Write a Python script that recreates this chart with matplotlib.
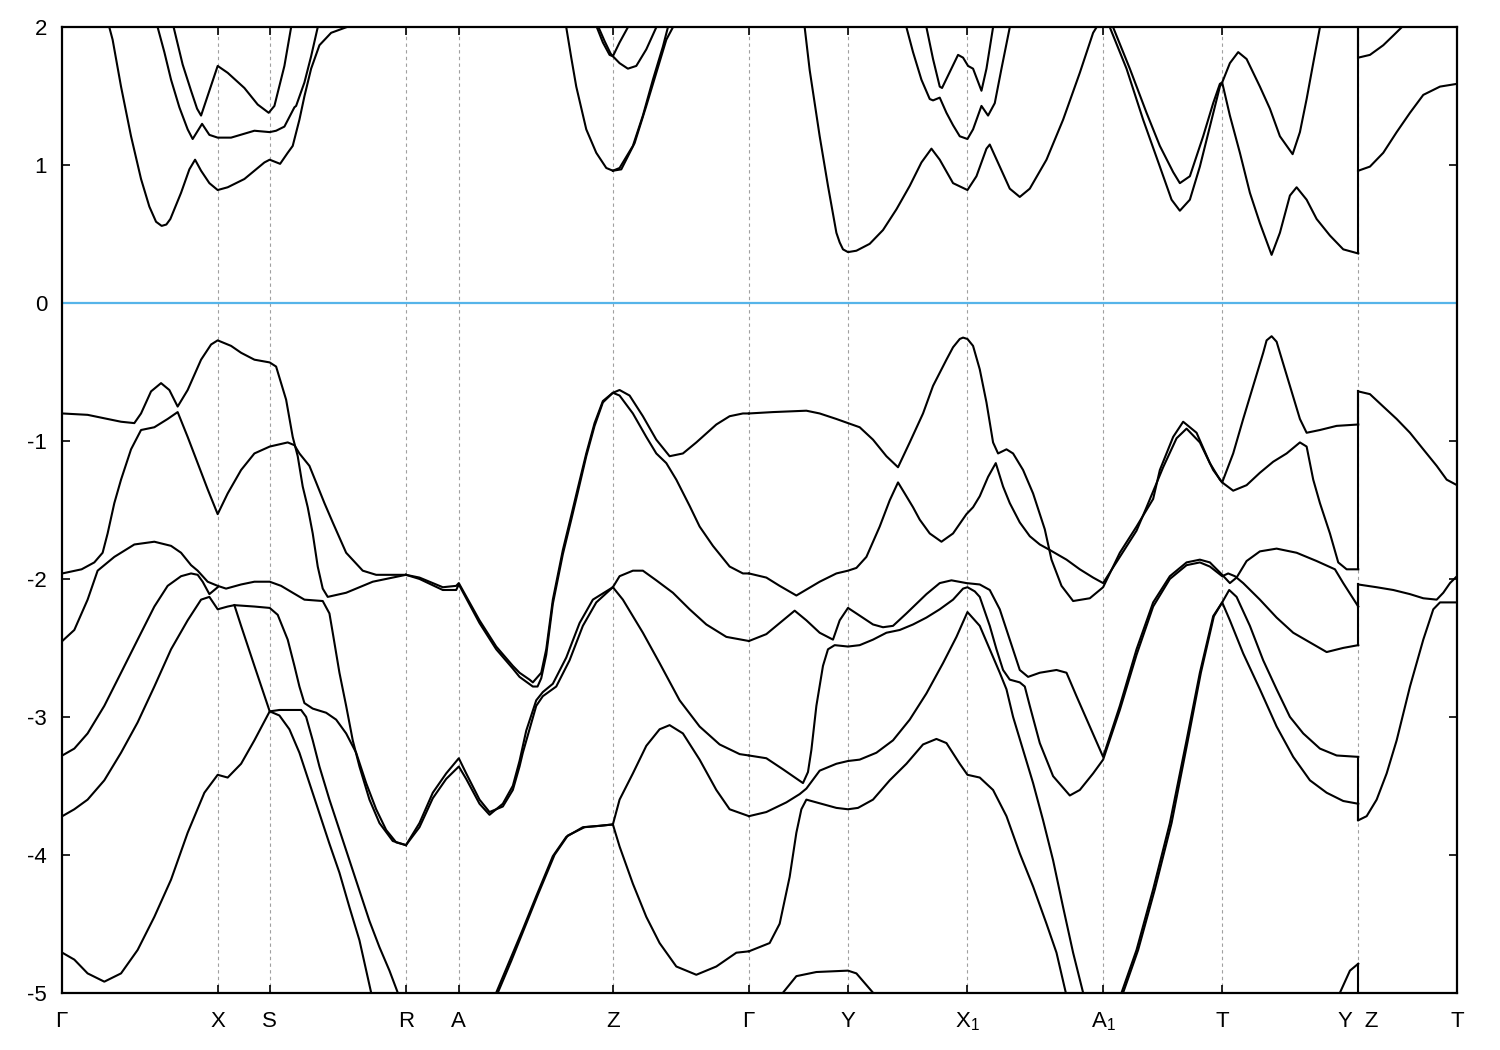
import matplotlib
matplotlib.use("Agg")
import matplotlib.pyplot as plt

plt.rcParams['font.family'] = ['Liberation Sans', 'DejaVu Sans']
plt.rcParams['mathtext.default'] = 'regular'
plt.rcParams['axes.unicode_minus'] = False

# high symmetry points along the path (path coordinate)
kpts = [0, 155.3, 207.3, 343.5, 396.3, 550.3, 686.3, 785.3, 904.7, 1040.3, 1159.3, 1295.3, 1394]
klabels = [r'$\Gamma$', 'X', 'S', 'R', 'A', 'Z', r'$\Gamma$', 'Y', 'X$_1$', 'A$_1$', 'T', 'Y  Z', 'T']
e_ticks = [-5, -4, -3, -2, -1, 0, 1, 2]

# ---- conduction bands ----
cb_gx_a_k = [47, 50.3, 58.7, 68.7, 78.7, 87, 93.7, 99.3, 104, 108, 118.7, 127, 132.7, 138.7, 147, 155.3, 165.3, 182,
             192, 202, 207.3, 217.7, 225.3, 230.3, 237, 242, 248.7, 257, 268.7, 283.7]
cb_gx_a_e = [2.0, 1.91, 1.57, 1.21, 0.90, 0.70, 0.59, 0.56, 0.57, 0.61, 0.80, 0.97, 1.04, 0.96, 0.87, 0.82, 0.84, 0.90,
             0.96, 1.02, 1.04, 1.01, 1.09, 1.14, 1.33, 1.50, 1.70, 1.87, 1.96, 2.0]
cb_gx_b_k = [95.3, 102, 108.7, 117, 125.3, 130.3, 139.7, 147, 155.3, 168.7, 192, 207.3, 213.7, 222, 232, 233.7, 242,
             248.7, 255.3]
cb_gx_b_e = [2.0, 1.82, 1.62, 1.42, 1.26, 1.19, 1.30, 1.22, 1.20, 1.20, 1.25, 1.24, 1.25, 1.28, 1.42, 1.43, 1.60, 1.79,
             2.0]
cb_gx_c_k = [111.3, 120.3, 128.7, 134.7, 138.7, 155.3, 165.3, 182, 195.3, 206.3, 212, 222, 228.7]
cb_gx_c_e = [2.0, 1.73, 1.54, 1.41, 1.36, 1.72, 1.67, 1.56, 1.44, 1.38, 1.43, 1.72, 2.0]

cb_z1_k = [503.7, 508.7, 513.7, 523.7, 533.7, 543.7, 550.3]
cb_z1_e = [2.0, 1.78, 1.57, 1.26, 1.09, 0.98, 0.96]
cb_z2_k = [550.3, 557, 570.3, 580.3, 590.3, 600.3, 605.3]
cb_z2_e = [0.96, 0.98, 1.14, 1.36, 1.62, 1.86, 2.0]
cb_z3_k = [550.3, 558.7, 572, 583.7, 593.7, 603.7, 610.3]
cb_z3_e = [0.96, 0.97, 1.16, 1.43, 1.67, 1.91, 2.0]
cb_z4_k = [534.3, 540.3, 547, 550.3, 557, 565.3, 573.7, 583.7, 593.7]
cb_z4_e = [2.0, 1.89, 1.80, 1.79, 1.74, 1.70, 1.72, 1.84, 2.0]
cb_z5_k = [536, 542, 548, 550.3, 557, 565.3]
cb_z5_e = [2.0, 1.90, 1.81, 1.79, 1.89, 2.0]

cb_y1_k = [742, 747, 757, 765.3, 773.7, 777, 780.3, 785.3, 793.7, 807, 820.3, 833.7, 847, 858.7, 868.7, 877, 890.3,
           904.7, 913.7, 923.7, 927, 937, 947, 957, 967, 983.7, 1000.3, 1017, 1030.3, 1033.7]
cb_y1_e = [2.0, 1.69, 1.21, 0.85, 0.51, 0.44, 0.39, 0.37, 0.38, 0.43, 0.53, 0.68, 0.85, 1.02, 1.12, 1.04, 0.87, 0.82,
           0.92, 1.12, 1.15, 0.99, 0.83, 0.77, 0.83, 1.04, 1.33, 1.67, 1.96, 2.0]
cb_x1a_k = [843.7, 850.3, 858.7, 867, 870.3, 877, 883.7, 890.3, 897, 904.7, 910.3, 918.7, 925.3, 932, 938.7, 947]
cb_x1a_e = [2.0, 1.82, 1.62, 1.48, 1.47, 1.49, 1.38, 1.29, 1.21, 1.19, 1.26, 1.43, 1.36, 1.45, 1.70, 2.0]
cb_x1b_k = [863.7, 870.3, 877, 879.3, 885.3, 895.3, 900.3, 905.3, 910.3, 918.7, 923.7, 930.3]
cb_x1b_e = [2.0, 1.77, 1.57, 1.56, 1.65, 1.80, 1.78, 1.72, 1.70, 1.54, 1.70, 2.0]

cb_t1_k = [1050.3, 1067, 1083.7, 1097, 1110.3, 1117, 1127, 1140.3, 1150.3, 1157, 1159.3, 1167, 1175.3, 1183.7, 1197,
           1207, 1217, 1229.7, 1237, 1243.7, 1250.3, 1257]
cb_t1_e = [2.0, 1.70, 1.38, 1.14, 0.95, 0.87, 0.92, 1.21, 1.45, 1.59, 1.60, 1.74, 1.82, 1.77, 1.57, 1.41, 1.21, 1.08,
           1.24, 1.48, 1.74, 2.0]
cb_t2_k = [1047, 1063.7, 1080.3, 1097, 1108.7, 1117, 1127, 1137, 1147, 1157, 1159.3, 1167, 1177, 1187, 1197, 1208.7,
           1217, 1227, 1233.7, 1243.7, 1253.7, 1267, 1280.3, 1295.3]
cb_t2_e = [2.0, 1.70, 1.33, 0.99, 0.75, 0.67, 0.75, 0.99, 1.28, 1.57, 1.60, 1.36, 1.09, 0.80, 0.58, 0.35, 0.51, 0.78,
           0.84, 0.75, 0.61, 0.49, 0.39, 0.36]
cb_zt1_k = [1295.3, 1307, 1320.3, 1333.7, 1347, 1360.3, 1377, 1394]
cb_zt1_e = [0.96, 0.99, 1.09, 1.24, 1.38, 1.51, 1.57, 1.59]
cb_zt2_k = [1295.3, 1307, 1320.3, 1330.3, 1338.7]
cb_zt2_e = [1.78, 1.80, 1.87, 1.94, 2.0]

# ---- valence bands ----
vb_gx1_k = [0, 25.3, 45.3, 58.7, 72, 78.7, 88.7, 98.7, 107, 115.3, 125.3, 138.7, 148.7, 155.3, 168.7, 178.7, 192,
            207.3, 213.7, 223.7, 230.3, 235.3, 240.3, 245.3, 250.3, 255.3, 260.3, 265.3, 283.7, 310.3, 343.5]
vb_gx1_e = [-0.80, -0.81, -0.84, -0.86, -0.87, -0.80, -0.64, -0.58, -0.63, -0.75, -0.63, -0.41, -0.30, -0.27, -0.31,
            -0.36, -0.41, -0.43, -0.46, -0.70, -0.97, -1.11, -1.33, -1.48, -1.67, -1.91, -2.07, -2.13, -2.10, -2.02,
            -1.97]
vb_gx2_k = [0, 19.3, 32, 40.3, 45.3, 52, 58.7, 68.7, 78.7, 92, 105.3, 115.3, 125.3, 135.3, 145.3, 155.3, 165.3, 178.7,
            192, 207.3, 225.3, 232, 237, 247, 253.7, 262, 270.3, 283.7, 300.3, 313.7, 343.5]
vb_gx2_e = [-1.96, -1.93, -1.88, -1.81, -1.67, -1.45, -1.28, -1.06, -0.92, -0.90, -0.84, -0.79, -0.97, -1.16, -1.35,
            -1.53, -1.38, -1.21, -1.09, -1.04, -1.01, -1.03, -1.09, -1.18, -1.30, -1.45, -1.59, -1.81, -1.94, -1.97,
            -1.97]
vb_gx3_k = [0, 12, 25.3, 35.3, 40.3, 52, 72, 92, 108.7, 118.7, 128.7, 135.3, 145.3, 155.3, 163.7, 178.7, 192, 207.3,
            218.7, 230.3, 242, 260.3, 267, 270.3, 277, 283.7, 290.3, 297, 307, 317, 330.3, 343.5]
vb_gx3_e = [-2.45, -2.37, -2.15, -1.94, -1.91, -1.84, -1.75, -1.73, -1.76, -1.81, -1.90, -1.94, -2.02, -2.05, -2.07,
            -2.04, -2.02, -2.02, -2.05, -2.10, -2.15, -2.16, -2.25, -2.39, -2.68, -2.92, -3.17, -3.36, -3.60, -3.77,
            -3.90, -3.93]
vb_gx4_k = [0, 12, 25.3, 42, 58.7, 75.3, 92, 105.3, 118.7, 128.7, 135.3, 140.3, 147, 155.3]
vb_gx4_e = [-3.28, -3.23, -3.12, -2.92, -2.68, -2.44, -2.20, -2.05, -1.98, -1.96, -1.97, -2.02, -2.11, -2.06]
vb_gx5_k = [0, 12, 25.3, 42, 58.7, 75.3, 92, 108.7, 125.3, 138.7, 147, 155.3, 165.3, 172, 192, 207.3, 215.3, 225.3,
            232, 237, 242, 250.3, 263.7, 273.7, 283.7, 293.7, 303.7, 313.7, 323.7, 333.7, 343.5]
vb_gx5_e = [-3.72, -3.67, -3.60, -3.46, -3.26, -3.04, -2.78, -2.51, -2.30, -2.15, -2.13, -2.22, -2.20, -2.19, -2.20,
            -2.21, -2.26, -2.44, -2.63, -2.78, -2.90, -2.94, -2.97, -3.02, -3.12, -3.26, -3.48, -3.67, -3.82, -3.91,
            -3.93]
vb_xs_k = [172, 178.7, 192, 207.3, 217, 227, 237, 247, 257, 267, 277, 287, 297, 308.7]
vb_xs_e = [-2.19, -2.34, -2.63, -2.96, -2.99, -3.09, -3.26, -3.48, -3.70, -3.92, -4.13, -4.38, -4.62, -5.0]
vb_gx6_k = [0, 12, 25.3, 42, 58.7, 75.3, 92, 108.7, 125.3, 142, 155.3, 165.3, 178.7, 192, 207.3, 217, 238.7, 243.7,
            250.3, 257, 267, 277, 287, 297, 307, 317, 327, 335.3]
vb_gx6_e = [-4.71, -4.76, -4.86, -4.92, -4.86, -4.69, -4.45, -4.18, -3.84, -3.55, -3.42, -3.44, -3.34, -3.17, -2.96,
            -2.95, -2.95, -3.0, -3.17, -3.36, -3.60, -3.82, -4.04, -4.26, -4.48, -4.67, -4.84, -5.0]

vb_raz1_k = [343.5, 357, 380.3, 393.7, 396.3, 417, 433.7, 450.3, 457, 467, 470.3, 478.7, 483.7, 490.3, 500.3, 508.7,
             515.3, 523.7, 532, 540.3, 550.3, 557, 567, 580.3, 593.7, 607, 620.3, 633.7, 653.7, 667, 680.3, 686.3]
vb_raz1_e = [-1.97, -1.99, -2.06, -2.05, -2.03, -2.30, -2.49, -2.63, -2.68, -2.73, -2.75, -2.68, -2.51, -2.15, -1.79,
             -1.54, -1.34, -1.09, -0.87, -0.71, -0.65, -0.63, -0.67, -0.82, -0.99, -1.11, -1.09, -1.01, -0.88, -0.82,
             -0.80, -0.80]
vb_raz2_k = [343.5, 357, 380.3, 393.7, 396.3, 417, 433.7, 450.3, 457, 470.3, 475, 478.7, 483.7, 490.3, 500.3, 508.7,
             515.3, 523.7, 532, 540.3, 550.3, 557, 570.3, 583.7, 593.7, 603.7, 613.7, 627, 637, 650.3, 667, 680.3,
             686.3]
vb_raz2_e = [-1.97, -2.00, -2.08, -2.08, -2.04, -2.32, -2.51, -2.65, -2.71, -2.78, -2.78, -2.72, -2.55, -2.18, -1.82,
             -1.57, -1.37, -1.11, -0.89, -0.72, -0.65, -0.67, -0.80, -0.97, -1.09, -1.16, -1.28, -1.47, -1.62, -1.76,
             -1.91, -1.96, -1.96]
vb_raz3_k = [343.5, 357, 370.3, 383.7, 396.3, 403.7, 417, 427, 440.3, 450.3, 457, 460.3, 473.7, 480.3, 493.7, 507,
             520.3, 533.7, 550.3]
vb_raz3_e = [-3.93, -3.77, -3.55, -3.41, -3.30, -3.41, -3.60, -3.69, -3.65, -3.53, -3.36, -3.26, -2.92, -2.85, -2.78,
             -2.59, -2.34, -2.17, -2.06]
vb_raz4_k = [343.5, 357, 370.3, 383.7, 396.3, 403.7, 417, 427, 440.3, 450.3, 457, 463.7, 473.7, 480.3, 490.3, 503.7,
             517, 530.3, 550.3]
vb_raz4_e = [-3.93, -3.80, -3.59, -3.45, -3.36, -3.45, -3.63, -3.71, -3.63, -3.50, -3.32, -3.10, -2.88, -2.82, -2.76,
             -2.57, -2.32, -2.15, -2.06]
vb_zb1_k = [433.7, 447, 460.3, 473.7, 490.3, 503.7, 520.3, 537, 550.3]
vb_zb1_e = [-5.0, -4.77, -4.54, -4.30, -4.01, -3.87, -3.80, -3.79, -3.78]
vb_zb2_k = [435.3, 448.7, 462, 475.3, 492, 505.3, 522, 537, 550.3]
vb_zb2_e = [-5.0, -4.77, -4.53, -4.29, -4.00, -3.86, -3.80, -3.79, -3.78]

vb_zg1_k = [550.3, 557, 570.3, 580.3, 593.7, 610.3, 627, 643.7, 663.7, 686.3]
vb_zg1_e = [-2.06, -1.98, -1.94, -1.94, -2.01, -2.10, -2.22, -2.33, -2.42, -2.45]
vb_zg2_k = [550.3, 560.3, 580.3, 597, 617, 637, 657, 677, 686.3]
vb_zg2_e = [-2.06, -2.15, -2.39, -2.61, -2.88, -3.07, -3.20, -3.27, -3.28]
vb_zg3_k = [550.3, 557, 570.3, 583.7, 597, 607, 620.3, 637, 653.7, 667, 686.3]
vb_zg3_e = [-3.78, -3.60, -3.41, -3.21, -3.09, -3.06, -3.12, -3.31, -3.53, -3.67, -3.72]
vb_zg4_k = [550.3, 557, 570.3, 583.7, 597, 613.7, 633.7, 653.7, 673.7, 686.3]
vb_zg4_e = [-3.78, -3.94, -4.21, -4.45, -4.64, -4.81, -4.87, -4.81, -4.71, -4.70]

vb_gy1_k = [686.3, 710.3, 743.7, 757, 773.7, 785.3, 797, 810.3, 823.7, 835.3, 847, 860.3, 870.3, 883.7, 890.3, 897,
            900.3, 904.7, 910.3, 917, 923.7, 930.3, 935.3, 943.7, 950.3, 960.3, 970.3, 982, 988.7, 998.7, 1010.3, 1027,
            1040.3, 1057, 1073.7, 1090.3, 1097, 1110.3, 1120.3, 1133.7, 1147, 1157, 1159.3, 1170.3, 1180.3, 1190.3,
            1200.3, 1203.7, 1208.7, 1213.7, 1217, 1227, 1237, 1243.7, 1257, 1273.7, 1295.3]
vb_gy1_e = [-0.80, -0.79, -0.78, -0.80, -0.84, -0.87, -0.90, -0.99, -1.11, -1.19, -1.01, -0.80, -0.60, -0.41, -0.32,
            -0.26, -0.25, -0.26, -0.31, -0.48, -0.72, -1.01, -1.09, -1.06, -1.09, -1.21, -1.38, -1.64, -1.86, -2.05,
            -2.16, -2.14, -2.06, -1.81, -1.62, -1.42, -1.21, -0.97, -0.86, -0.94, -1.16, -1.28, -1.30, -1.09, -0.84,
            -0.60, -0.36, -0.27, -0.24, -0.28, -0.36, -0.60, -0.84, -0.94, -0.92, -0.89, -0.88]
vb_gy2_k = [686.3, 703.7, 717, 733.7, 757, 773.7, 785.3, 793.7, 803.7, 817, 827, 835.3, 842, 850.3, 857, 867, 878.7,
            890.3, 903.7, 910.3, 917, 925.3, 933, 940.3, 947, 957, 967, 977, 987, 1003.7, 1017, 1030.3, 1040.3, 1057,
            1073.7, 1083.7, 1100.3, 1113.7, 1123.7, 1137, 1150.3, 1159.3, 1170.3, 1183.7, 1197, 1210.3, 1223.7, 1237,
            1243.7, 1250.3, 1257, 1267, 1275.3, 1283.7, 1295.3]
vb_gy2_e = [-1.96, -1.99, -2.05, -2.12, -2.02, -1.96, -1.94, -1.92, -1.84, -1.62, -1.43, -1.30, -1.38, -1.48, -1.57,
            -1.67, -1.73, -1.67, -1.53, -1.48, -1.40, -1.26, -1.16, -1.33, -1.45, -1.59, -1.69, -1.75, -1.79, -1.86,
            -1.93, -1.99, -2.03, -1.84, -1.65, -1.48, -1.19, -0.98, -0.91, -1.01, -1.21, -1.30, -1.36, -1.32, -1.23,
            -1.15, -1.09, -1.01, -1.04, -1.28, -1.45, -1.67, -1.88, -1.93, -1.93]
vb_gy3_k = [686.3, 703.7, 717, 732, 743.7, 757, 770.3, 777, 785.3, 793.7, 810.3, 820.3, 830.3, 843.7, 863.7, 877,
            888.7, 903.7, 917, 927, 937, 947, 957, 965.3, 977, 993.7, 1003.7, 1013.7, 1027, 1040.3, 1057, 1073.7,
            1090.3, 1107, 1123.7, 1137, 1147, 1159.3, 1167, 1173.7, 1183.7, 1197, 1213.7, 1233.7, 1253.7, 1272,
            1280.3, 1295.3]
vb_gy3_e = [-2.45, -2.40, -2.32, -2.23, -2.30, -2.39, -2.44, -2.30, -2.21, -2.25, -2.33, -2.35, -2.34, -2.25, -2.11,
            -2.03, -2.01, -2.03, -2.04, -2.08, -2.22, -2.44, -2.66, -2.71, -2.68, -2.66, -2.68, -2.85, -3.07, -3.29,
            -2.92, -2.51, -2.17, -1.98, -1.88, -1.86, -1.88, -1.97, -2.03, -1.99, -1.87, -1.80, -1.78, -1.81, -1.87,
            -1.93, -2.03, -2.20]
vb_gy4_k = [686.3, 703.7, 720.3, 740.3, 745.3, 748.7, 753.7, 760.3, 765.3, 772, 785.3, 797, 810.3, 823.7, 837, 850.3,
            863.7, 877, 890.3, 900.3, 904.7, 912, 917, 927, 933.7, 940.3, 947, 957, 962, 967, 977, 990.3, 1007, 1017,
            1030.3, 1040.3, 1057, 1073.7, 1090.3, 1107, 1123.7, 1137, 1147, 1159.3, 1165.3, 1172, 1180.3, 1197,
            1213.7, 1230.3, 1247, 1263.7, 1280.3, 1295.3]
vb_gy4_e = [-3.28, -3.30, -3.38, -3.48, -3.40, -3.24, -2.92, -2.63, -2.51, -2.48, -2.49, -2.48, -2.44, -2.39, -2.37,
            -2.33, -2.28, -2.22, -2.15, -2.07, -2.06, -2.09, -2.13, -2.34, -2.51, -2.66, -2.73, -2.75, -2.78, -2.92,
            -3.19, -3.43, -3.57, -3.53, -3.41, -3.31, -2.95, -2.55, -2.20, -2.00, -1.90, -1.88, -1.91, -1.98, -1.96,
            -1.98, -2.03, -2.15, -2.28, -2.39, -2.46, -2.53, -2.50, -2.48]
vb_gy5_k = [686.3, 703.7, 723.7, 737, 743.7, 757, 773.7, 785.3, 797, 813.7, 830.3, 847, 863.7, 880.3, 893.7, 904.7,
            917, 927, 937, 943.7, 950.3, 960.3, 970.3, 980.3, 990.3, 1000.3, 1010.3, 1020.3]
vb_gy5_e = [-3.72, -3.69, -3.62, -3.56, -3.52, -3.39, -3.34, -3.32, -3.31, -3.26, -3.17, -3.02, -2.83, -2.61, -2.42,
            -2.24, -2.34, -2.51, -2.68, -2.80, -3.0, -3.24, -3.48, -3.75, -4.04, -4.38, -4.71, -5.0]
vb_gy6_k = [686.3, 707, 717, 727, 733.7, 738.7, 743.7, 748.7, 773.7, 785.3, 795.3, 810.3, 827, 843.7, 860.3, 873.7,
            883.7, 897, 904.7, 917, 930.3, 943.7, 957, 970.3, 983.7, 993.7, 1003]
vb_gy6_e = [-4.70, -4.64, -4.50, -4.16, -3.84, -3.67, -3.60, -3.61, -3.66, -3.67, -3.66, -3.60, -3.46, -3.34, -3.20,
            -3.16, -3.19, -3.34, -3.42, -3.44, -3.53, -3.72, -3.99, -4.23, -4.50, -4.71, -5.0]
vb_gy7_k = [720.3, 733.7, 753.7, 785.3, 793.7, 810.3]
vb_gy7_e = [-5.0, -4.88, -4.85, -4.84, -4.86, -5.0]

vb_at1_k = [1058.7, 1073.7, 1090.3, 1107, 1123.7, 1137, 1150.3, 1159.3, 1166.3, 1173.7, 1187, 1200.3, 1213.7, 1227,
            1240.3, 1257, 1273.7, 1295.3]
vb_at1_e = [-5.0, -4.69, -4.25, -3.77, -3.17, -2.68, -2.27, -2.17, -2.08, -2.13, -2.34, -2.59, -2.80, -3.00, -3.12,
            -3.23, -3.28, -3.29]
vb_at2_k = [1060.3, 1075.3, 1092, 1108.7, 1125, 1138, 1151, 1159.3, 1167, 1180.3, 1197, 1213.7, 1230.3, 1247, 1263.7,
            1280.3, 1295.3]
vb_at2_e = [-5.0, -4.69, -4.25, -3.77, -3.17, -2.68, -2.27, -2.17, -2.30, -2.54, -2.80, -3.07, -3.29, -3.46, -3.55,
            -3.61, -3.63]
vb_ty_k = [1277, 1287, 1295.3]
vb_ty_e = [-5.0, -4.84, -4.79]

vb_zt1_k = [1295.3, 1307, 1320.3, 1333.7, 1347, 1360.3, 1373.7, 1383.7, 1394]
vb_zt1_e = [-0.64, -0.66, -0.75, -0.84, -0.94, -1.06, -1.18, -1.28, -1.32]
vb_zt2_k = [1295.3, 1313.7, 1330.3, 1347, 1360.3, 1373.7, 1380.3, 1387, 1394]
vb_zt2_e = [-2.04, -2.06, -2.08, -2.11, -2.14, -2.15, -2.10, -2.03, -1.98]
vb_zt3_k = [1295.3, 1303.7, 1313.7, 1323.7, 1333.7, 1347, 1360.3, 1370.3, 1377, 1394]
vb_zt3_e = [-3.75, -3.72, -3.60, -3.41, -3.17, -2.78, -2.44, -2.22, -2.17, -2.17]

# band energies at Y (end of T-Y) and at Z (start of Z-T), joined by the plot program
yz_at_y = [0.36, 2.5, 2.5, -0.88, -1.93, -2.20, -2.48, -3.29, -3.63, -4.79]
yz_at_z = [0.96, 0.96, 1.78, -0.64, -0.64, -2.04, -2.04, -3.75, -3.75, -5.5]

bands = [
    (cb_gx_a_k, cb_gx_a_e), (cb_gx_b_k, cb_gx_b_e), (cb_gx_c_k, cb_gx_c_e),
    (cb_z1_k, cb_z1_e), (cb_z2_k, cb_z2_e), (cb_z3_k, cb_z3_e), (cb_z4_k, cb_z4_e), (cb_z5_k, cb_z5_e),
    (cb_y1_k, cb_y1_e), (cb_x1a_k, cb_x1a_e), (cb_x1b_k, cb_x1b_e),
    (cb_t1_k, cb_t1_e), (cb_t2_k, cb_t2_e), (cb_zt1_k, cb_zt1_e), (cb_zt2_k, cb_zt2_e),
    (vb_gx1_k, vb_gx1_e), (vb_gx2_k, vb_gx2_e), (vb_gx3_k, vb_gx3_e), (vb_gx4_k, vb_gx4_e),
    (vb_gx5_k, vb_gx5_e), (vb_xs_k, vb_xs_e), (vb_gx6_k, vb_gx6_e),
    (vb_raz1_k, vb_raz1_e), (vb_raz2_k, vb_raz2_e), (vb_raz3_k, vb_raz3_e), (vb_raz4_k, vb_raz4_e),
    (vb_zb1_k, vb_zb1_e), (vb_zb2_k, vb_zb2_e),
    (vb_zg1_k, vb_zg1_e), (vb_zg2_k, vb_zg2_e), (vb_zg3_k, vb_zg3_e), (vb_zg4_k, vb_zg4_e),
    (vb_gy1_k, vb_gy1_e), (vb_gy2_k, vb_gy2_e), (vb_gy3_k, vb_gy3_e), (vb_gy4_k, vb_gy4_e),
    (vb_gy5_k, vb_gy5_e), (vb_gy6_k, vb_gy6_e), (vb_gy7_k, vb_gy7_e),
    (vb_at1_k, vb_at1_e), (vb_at2_k, vb_at2_e), (vb_ty_k, vb_ty_e),
    (vb_zt1_k, vb_zt1_e), (vb_zt2_k, vb_zt2_e), (vb_zt3_k, vb_zt3_e),
]

fig = plt.figure(figsize=(15, 10.5), dpi=100)
ax = fig.add_axes([62.3/1500, 1 - 992.7/1050, (1457 - 62.3)/1500, (992.7 - 27.3)/1050])

for k in kpts[1:-1]:
    ax.axvline(k, color='#a0a0a0', lw=0.8, ls=(0, (3, 3)), zorder=1)
ax.axhline(0, color='#56b4e9', lw=1.6, zorder=2)

for kk, ee in bands:
    ax.plot(kk, ee, color='black', lw=1.5, zorder=3, solid_joinstyle='round')

# gnuplot draws the jump Y|Z as vertical lines
for ey, ez in zip(yz_at_y, yz_at_z):
    ax.plot([kpts[11], kpts[11]], [ey, ez], color='black', lw=1.5, zorder=3)

ax.set_xlim(kpts[0], kpts[-1])
ax.set_ylim(-5, 2)
ax.set_xticks(kpts)
ax.set_xticklabels(klabels)
ax.set_yticks(e_ticks)
ax.set_yticklabels([str(v) for v in e_ticks])
ax.tick_params(direction='in', top=True, right=True, length=6, width=1.2, labelsize=16)
ax.tick_params(axis='x', pad=13)
ax.tick_params(axis='y', pad=11)
for sp in ax.spines.values():
    sp.set_linewidth(1.6)

fig.savefig('out.png', dpi=100)
